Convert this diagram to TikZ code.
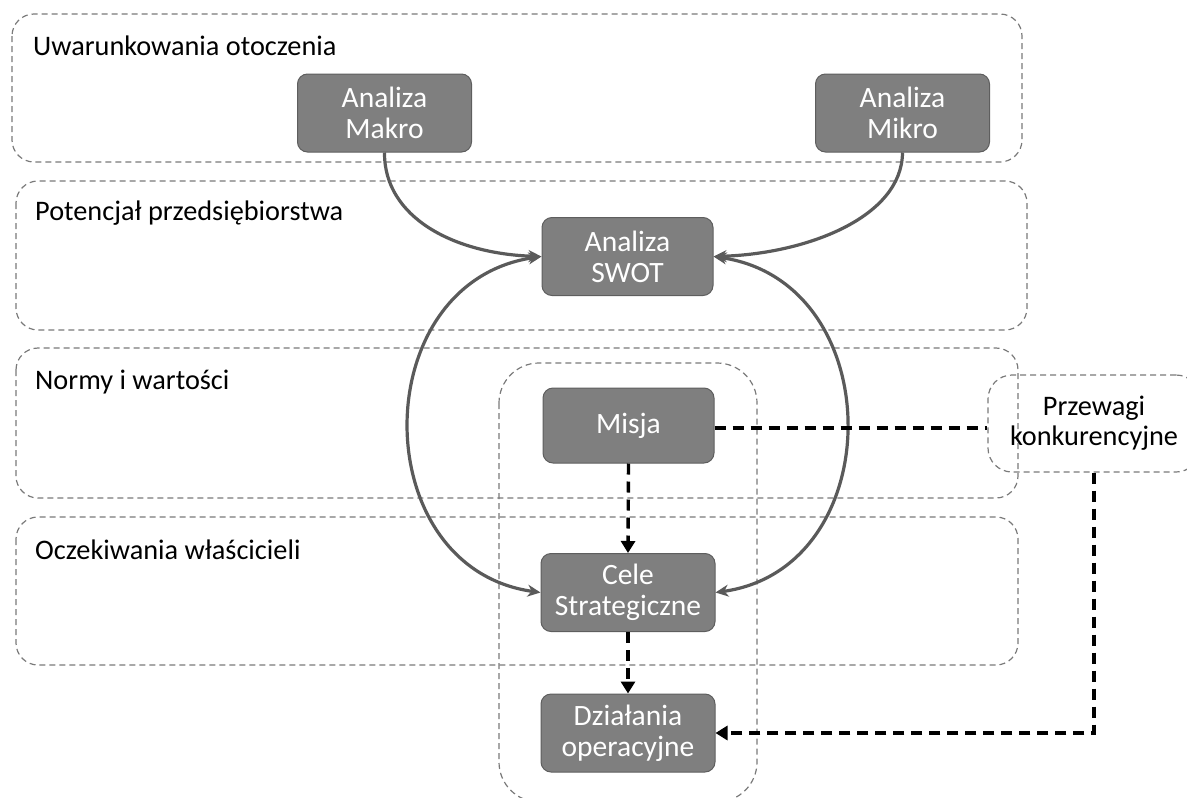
\documentclass[tikz,border=0pt]{standalone}
\usepackage{fontspec}
\setmainfont{Carlito}
\usetikzlibrary{arrows.meta}
\definecolor{boxfill}{HTML}{7F7F7F}
\definecolor{boxline}{HTML}{5E5E5E}
\definecolor{flowgrey}{HTML}{5A5A5A}
\definecolor{zonegrey}{HTML}{7A7A7A}
\begin{document}
\begin{tikzpicture}[x=1pt,y=-1pt,
  every node/.style={font=\fontsize{28.3}{30}\selectfont},
  zone/.style={draw=zonegrey, line width=1.2pt, dash pattern=on 6pt off 4pt, rounded corners=22pt},
  stagebox/.style={draw=boxline, line width=1pt, fill=boxfill, rounded corners=10pt,
    text=white, align=center, minimum width=174pt, minimum height=78pt, inner sep=0pt,
    font=\fontsize{29.5}{31}\selectfont},
  zonelabel/.style={anchor=west, inner sep=0pt},
  feed/.style={draw=flowgrey, line width=3.2pt, {Stealth[length=13pt,width=12pt]}-{Stealth[length=13pt,width=12pt]}},
  feedin/.style={draw=flowgrey, line width=3.2pt, -{Stealth[length=13pt,width=12pt]}},
  chain/.style={draw=black, line width=3.4pt, dash pattern=on 11pt off 7pt},
  chainarrow/.style={chain, -{Triangle[length=12pt,width=14pt]}}]
\useasboundingbox (0,0) rectangle (1187,798);

% zones
\draw[zone] (12,14) rectangle (1022,162);
\draw[zone] (16,181) rectangle (1027,330);
\draw[zone] (16,348) rectangle (1018,498);
\draw[zone] (16,517) rectangle (1018,665);
\draw[zone, rounded corners=40pt] (499,363) rectangle (757,802);

\node[zonelabel] (z1) at (33,46) {Uwarunkowania otoczenia};
\node[zonelabel] (z2) at (35,213) {Potencjał przedsiębiorstwa};
\node[zonelabel] (z3) at (35,382) {Normy i wartości};
\node[zonelabel] (z4) at (35,550) {Oczekiwania właścicieli};

% stages
\node[stagebox] (makro) at (384.5,113) {Analiza\\Makro};
\node[stagebox] (mikro) at (902.5,113) {Analiza\\Mikro};
\node[stagebox, minimum width=171pt] (swot) at (627.5,256.5) {Analiza\\SWOT};
\node[stagebox, minimum width=171pt, minimum height=75pt] (misja) at (628.5,425.5) {Misja};
\node[stagebox] (cele) at (628,592.5) {Cele\\Strategiczne};
\node[stagebox] (dzial) at (628,733) {Działania\\operacyjne};

\node[draw=zonegrey, line width=1.2pt, dash pattern=on 6pt off 4pt, rounded corners=24pt,
  align=center, minimum width=212pt, minimum height=97pt, inner sep=0pt]
  (przewagi) at (1094,423.5) {Przewagi\\konkurencyjne};

% analysis feeding SWOT
\draw[feedin] (makro.south) .. controls (384,218) and (455,254) .. (swot.west);
\draw[feedin] (mikro.south) .. controls (902,218) and (805,254) .. (swot.east);

% SWOT <-> strategic goals
\draw[feed] (swot.west) .. controls (365,282) and (365,568) .. (cele.west);
\draw[feed] (swot.east) .. controls (890,282) and (890,568) .. (cele.east);

% mission chain
\draw[chainarrow] (misja.south) -- (cele.north);
\draw[chainarrow] (cele.south) -- (dzial.north);
\draw[chain] (misja.east |- 0,428) -- (przewagi.west |- 0,428);
\draw[chainarrow] (przewagi.south) |- (dzial.east);
\end{tikzpicture}
\end{document}
